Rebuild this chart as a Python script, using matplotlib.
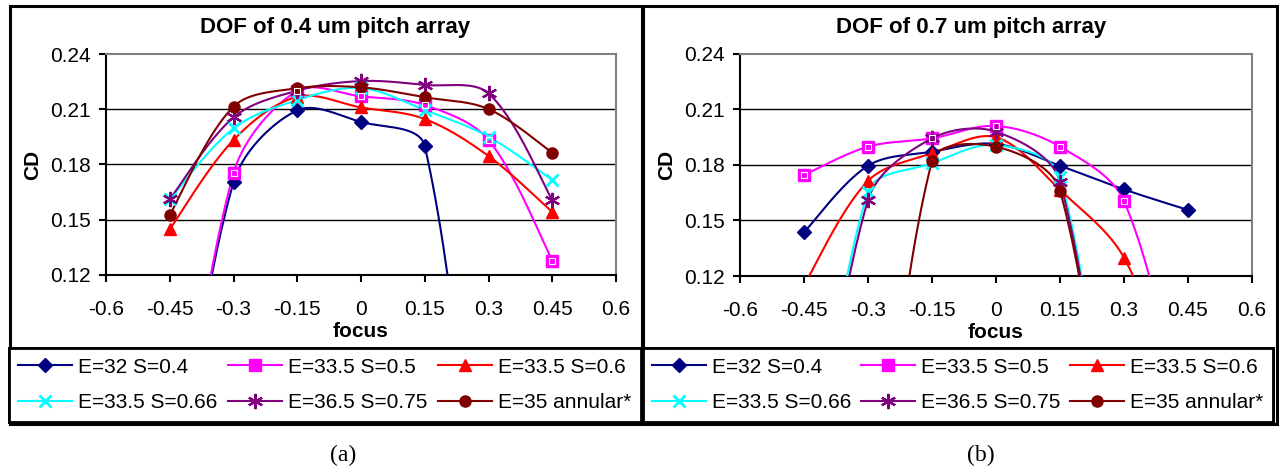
import numpy as np
import matplotlib
matplotlib.use("Agg")
import matplotlib.pyplot as plt
from matplotlib.patches import Rectangle
from matplotlib.lines import Line2D

plt.rcParams['font.family'] = ['Liberation Sans', 'DejaVu Sans']

nan = np.nan
focus = [-0.45, -0.3, -0.15, 0, 0.15, 0.3, 0.45]
labels = ["E=32 S=0.4", "E=33.5 S=0.5", "E=33.5 S=0.6",
          "E=33.5 S=0.66", "E=36.5 S=0.75", "E=35 annular*"]

# (a) 0.4 um pitch  (values below 0.12 fall outside the plotted range)
cd_a_e32_s04 = [-0.03, 0.1703, 0.2094, 0.2031, 0.190, -0.10, nan]
cd_a_e335_s05 = [-0.03, 0.1752, 0.2200, 0.2170, 0.2123, 0.1933, 0.1278]
cd_a_e335_s06 = [0.1448, 0.1933, 0.2168, 0.2110, 0.2047, 0.1846, 0.1542]
cd_a_e335_s066 = [0.1611, 0.1996, 0.2150, 0.2215, 0.2096, 0.1951, 0.1716]
cd_a_e365_s075 = [0.1611, 0.2056, 0.2201, 0.2253, 0.2232, 0.2186, 0.1607]
cd_a_e35_ann = [0.1526, 0.2114, 0.2214, 0.2219, 0.2165, 0.2101, 0.1864]

# (b) 0.7 um pitch
cd_b_e32_s04 = [0.1436, 0.1796, 0.1872, 0.1914, 0.1796, 0.1668, 0.1557]
cd_b_e335_s05 = [0.1746, 0.1899, 0.1944, 0.2011, 0.1899, 0.1605, 0.03]
cd_b_e335_s06 = [0.115, 0.1714, 0.1863, 0.1950, 0.1665, 0.1299, 0.04]
cd_b_e335_s066 = [-0.04, 0.1656, 0.1809, 0.1908, 0.1737, -0.06, nan]
cd_b_e365_s075 = [-0.04, 0.1611, 0.1944, 0.1980, 0.1710, -0.06, nan]
cd_b_e35_ann = [nan, -0.08, 0.1822, 0.1899, 0.1661, -0.06, nan]

styles = [
    dict(color="#000080", marker="D", ms=7, mfc="#000080", mec="#000080"),
    dict(color="#FF00FF", marker="s", ms=8, mfc="#FF00FF", mec="#FF00FF"),
    dict(color="#FF0000", marker="^", ms=9, mfc="#FF0000", mec="#FF0000"),
    dict(color="#00FFFF", marker="x", ms=9, mew=2, mfc="#00FFFF", mec="#00FFFF"),
    dict(color="#800080", marker=(6, 2, 0), ms=11, mew=1.6, mfc="#800080", mec="#800080"),
    dict(color="#800000", marker="o", ms=8, mfc="#800000", mec="#800000"),
]

W, H = 1279, 469
PX_X = 425.0   # px per focus unit
PX_Y = 1842.0  # px per CD unit


def smooth(x, y, n=40):
    # Excel-like smoothed line: bezier with tangents weighted by segment length
    p = np.column_stack([np.asarray(x) * PX_X, np.asarray(y) * PX_Y])
    out = []
    for i in range(len(p) - 1):
        p1, p2 = p[i], p[i + 1]
        p0 = p[i - 1] if i > 0 else p1
        p3 = p[i + 2] if i + 2 < len(p) else p2
        d01 = np.hypot(*(p1 - p0))
        d12 = np.hypot(*(p2 - p1))
        d23 = np.hypot(*(p3 - p2))
        c1 = p1 + (p2 - p0) * (d12 / (d01 + d12) / 3 if d01 > 0 else 1 / 6)
        c2 = p2 - (p3 - p1) * (d12 / (d12 + d23) / 3 if d23 > 0 else 1 / 6)
        t = np.linspace(0, 1, n)[:, None]
        seg = (1 - t) ** 3 * p1 + 3 * (1 - t) ** 2 * t * c1 + 3 * (1 - t) * t ** 2 * c2 + t ** 3 * p2
        out.append(seg)
    out = np.vstack(out)
    return out[:, 0] / PX_X, out[:, 1] / PX_Y


def draw_panel(ax, series):
    for vals, st in zip(series, styles):
        x = np.array(focus)
        y = np.array(vals, dtype=float)
        ok = ~np.isnan(y)
        sx, sy = smooth(x[ok], y[ok])
        ax.plot(sx, sy, color=st["color"], lw=1.5, zorder=3)
        mk = {k: v for k, v in st.items() if k != "color"}
        ax.plot(x[ok], y[ok], ls="none", zorder=4, **mk)
        if st["marker"] == "s":
            ax.plot(x[ok], y[ok], ls="none", marker="s", ms=5, mfc="none",
                    mec="white", mew=0.8, zorder=5)
    ax.set_xlim(-0.6, 0.6)
    ax.set_ylim(0.12, 0.24)
    ax.set_xticks([-0.6, -0.45, -0.3, -0.15, 0, 0.15, 0.3, 0.45, 0.6])
    ax.set_xticklabels(["-0.6", "-0.45", "-0.3", "-0.15", "0", "0.15", "0.3", "0.45", "0.6"])
    ax.set_yticks([0.12, 0.15, 0.18, 0.21, 0.24])
    ax.set_yticklabels(["0.12", "0.15", "0.18", "0.21", "0.24"])
    ax.tick_params(direction="out", length=5, width=1.5, labelsize=15, color="black")
    ax.tick_params(axis="x", pad=13)
    ax.tick_params(axis="y", pad=6)
    for y in [0.15, 0.18, 0.21]:
        ax.axhline(y, color="black", lw=1, zorder=1)
    for s in ["top", "right"]:
        ax.spines[s].set_color("#808080")
        ax.spines[s].set_linewidth(1.5)
    for s in ["left", "bottom"]:
        ax.spines[s].set_color("black")
        ax.spines[s].set_linewidth(1.5)
    ax.set_xlabel("focus", fontsize=15, fontweight="bold", labelpad=2)
    ax.set_ylabel("CD", fontsize=15, fontweight="bold", labelpad=6)


fig = plt.figure(figsize=(W / 100, H / 100), dpi=100)


def fx(px):
    return px / W


def fy(py):
    return 1 - py / H


ax1 = fig.add_axes([fx(106), fy(275), fx(616) - fx(106), fy(54) - fy(275)])
ax2 = fig.add_axes([fx(740), fy(276), fx(1252) - fx(740), fy(54) - fy(276)])

draw_panel(ax1, [cd_a_e32_s04, cd_a_e335_s05, cd_a_e335_s06,
                 cd_a_e335_s066, cd_a_e365_s075, cd_a_e35_ann])
draw_panel(ax2, [cd_b_e32_s04, cd_b_e335_s05, cd_b_e335_s06,
                 cd_b_e335_s066, cd_b_e365_s075, cd_b_e35_ann])

fig.text(fx(335), fy(27), "DOF of 0.4 um pitch array", fontsize=16,
         fontweight="bold", ha="center", va="center")
fig.text(fx(971), fy(27), "DOF of 0.7 um pitch array", fontsize=16,
         fontweight="bold", ha="center", va="center")

# legend handles, reordered so that entries run row by row
handles = []
for st in styles:
    mk = {k: v for k, v in st.items() if k != "color"}
    handles.append(Line2D([], [], color=st["color"], lw=1.5, **mk))
order = [0, 3, 1, 4, 2, 5]

for (x0, x1) in [(9, 641), (643, 1273)]:
    leg = fig.legend([handles[i] for i in order], [labels[i] for i in order],
                     ncol=3, loc="center",
                     bbox_to_anchor=(fx(x0), fy(424), fx(x1) - fx(x0), fy(346) - fy(424)),
                     bbox_transform=fig.transFigure, mode="expand",
                     fontsize=15, handlelength=2.55, handletextpad=0.33,
                     columnspacing=0.3, labelspacing=0.8, borderaxespad=0,
                     borderpad=0.45, fancybox=False, framealpha=1)
    leg.get_frame().set_edgecolor("black")
    leg.get_frame().set_linewidth(2)
    fig.add_artist(leg)

# panel borders
fig.patches.append(Rectangle((fx(10), fy(424)), fx(642) - fx(10), fy(6) - fy(424),
                             transform=fig.transFigure, fill=False, ec="black", lw=2.2))
fig.patches.append(Rectangle((fx(643), fy(424)), fx(1277) - fx(643), fy(6) - fy(424),
                             transform=fig.transFigure, fill=False, ec="black", lw=2.2))

fig.text(fx(343), fy(455), "(a)", fontsize=17, family=["Liberation Serif", "DejaVu Serif"],
         ha="center", va="center")
fig.text(fx(981), fy(455), "(b)", fontsize=17, family=["Liberation Serif", "DejaVu Serif"],
         ha="center", va="center")

fig.savefig("out.png", dpi=100)
